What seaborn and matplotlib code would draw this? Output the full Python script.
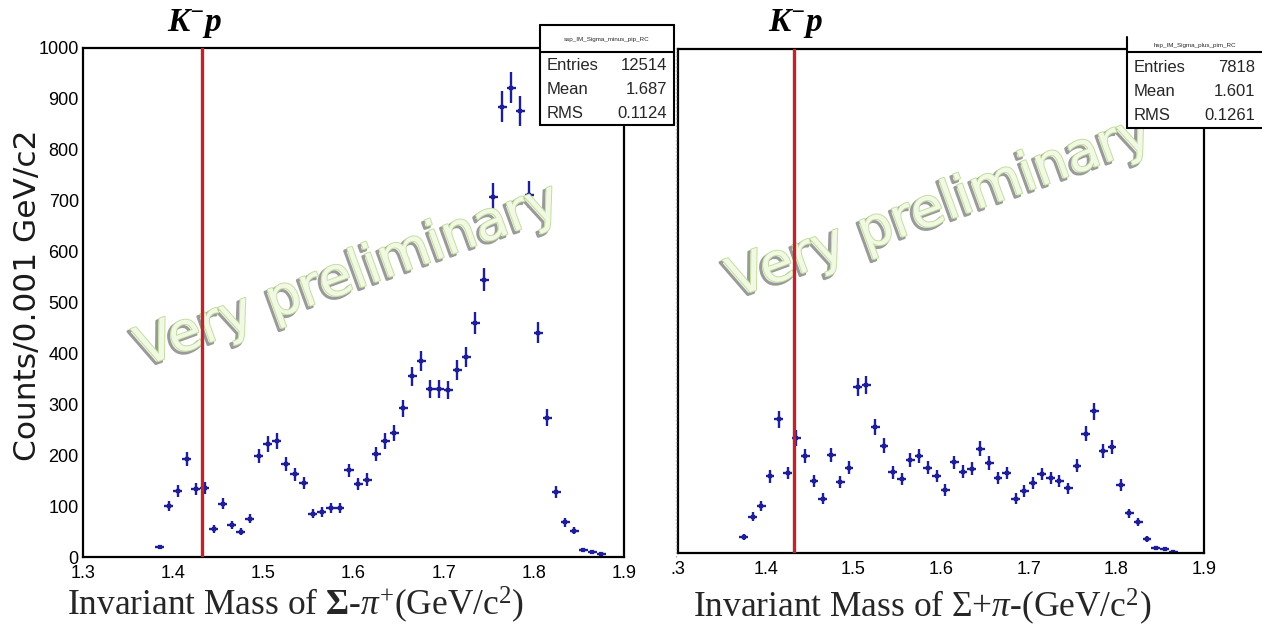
import numpy as np
import pandas as pd
import matplotlib
matplotlib.use("Agg")
import matplotlib.pyplot as plt
import seaborn as sns
from matplotlib import patheffects as pe
from matplotlib.ticker import MultipleLocator
from matplotlib.lines import Line2D
from matplotlib.patches import Rectangle

# ---------------- data ----------------
mass_left = [1.385, 1.395, 1.405, 1.415, 1.425, 1.435, 1.445, 1.455, 1.465, 1.475,
             1.485, 1.495, 1.505, 1.515, 1.525, 1.535, 1.545, 1.555, 1.565, 1.575,
             1.585, 1.595, 1.605, 1.615, 1.625, 1.635, 1.645, 1.655, 1.665, 1.675,
             1.685, 1.695, 1.705, 1.715, 1.725, 1.735, 1.745, 1.755, 1.765, 1.775,
             1.785, 1.795, 1.805, 1.815, 1.825, 1.835, 1.845, 1.855, 1.865, 1.875]
counts_left = [20, 100, 130, 192, 133, 135, 55, 105, 62, 50,
               75, 198, 222, 228, 183, 163, 145, 85, 88, 97,
               97, 170, 143, 152, 202, 228, 243, 292, 355, 385,
               330, 330, 328, 367, 393, 460, 545, 708, 885, 922,
               877, 712, 441, 274, 128, 68, 52, 14, 10, 5]

mass_right = [1.375, 1.385, 1.395, 1.405, 1.415, 1.425, 1.435, 1.445, 1.455, 1.465,
              1.475, 1.485, 1.495, 1.505, 1.515, 1.525, 1.535, 1.545, 1.555, 1.565,
              1.575, 1.585, 1.595, 1.605, 1.615, 1.625, 1.635, 1.645, 1.655, 1.665,
              1.675, 1.685, 1.695, 1.705, 1.715, 1.725, 1.735, 1.745, 1.755, 1.765,
              1.775, 1.785, 1.795, 1.805, 1.815, 1.825, 1.835, 1.845, 1.855, 1.865]
counts_right = [32, 72, 93, 152, 265, 159, 228, 192, 143, 108,
                195, 141, 169, 329, 333, 250, 213, 160, 147, 185,
                192, 169, 153, 125, 180, 161, 167, 207, 179, 149,
                159, 108, 123, 139, 157, 149, 142, 128, 173, 237,
                281, 203, 210, 135, 79, 62, 28, 10, 7, 2]

threshold_kp = 1.432
bin_half_width = 0.005

x_ticks = [1.3, 1.4, 1.5, 1.6, 1.7, 1.8, 1.9]
x_labels_left = ["1.3", "1.4", "1.5", "1.6", "1.7", "1.8", "1.9"]
x_labels_right = [".3", "1.4", "1.5", "1.6", "1.7", "1.8", "1.9"]
y_ticks = [0, 100, 200, 300, 400, 500, 600, 700, 800, 900, 1000]

stats_left = {"title": "ssp_IM_Sigma_minus_pip_RC",
              "rows": [("Entries", "12514"), ("Mean", "1.687"), ("RMS", "0.1124")]}
stats_right = {"title": "hsp_IM_Sigma_plus_pim_RC",
               "rows": [("Entries", "7818"), ("Mean", "1.601"), ("RMS", "0.1261")]}

# ---------------- style ----------------
sns.set_style("white")
plt.rcParams["font.family"] = ["Liberation Sans", "DejaVu Sans"]
plt.rcParams["mathtext.fontset"] = "custom"
plt.rcParams["mathtext.rm"] = "Liberation Serif"
plt.rcParams["mathtext.it"] = "Liberation Serif:italic"
plt.rcParams["mathtext.bf"] = "Liberation Serif:bold"
plt.rcParams["mathtext.sf"] = "Liberation Serif:bold:italic"

W, H = 1262, 627
fig = plt.figure(figsize=(W / 100, H / 100), dpi=100)
fig.patch.set_facecolor("white")


def fx(x):
    return x / W


def fy(y):
    return 1 - y / H


navy = "#1e1e96"
red = "#c0232a"

ax_l = fig.add_axes([fx(83), fy(557), fx(624) - fx(83), fy(48) - fy(557)])
ax_r = fig.add_axes([fx(678), fy(553), fx(1204) - fx(678), fy(49) - fy(553)])

df_l = pd.DataFrame({"mass": mass_left, "counts": counts_left})
df_r = pd.DataFrame({"mass": mass_right, "counts": counts_right})

for ax, df, xl in [(ax_l, df_l, x_labels_left), (ax_r, df_r, x_labels_right)]:
    sns.scatterplot(data=df, x="mass", y="counts", ax=ax, marker="s", s=5,
                    color=navy, edgecolor=None, legend=False, zorder=2)
    ax.errorbar(df["mass"], df["counts"], yerr=np.sqrt(df["counts"]),
                xerr=bin_half_width, fmt="none", ecolor=navy, elinewidth=1.7,
                capsize=0, zorder=2)
    ax.axvline(threshold_kp, color=red, lw=2.4, zorder=4)
    ax.set_xlim(1.3, 1.9)
    ax.set_ylim(0, 1000)
    ax.set_xticks(x_ticks)
    ax.set_xticklabels(xl)
    ax.set_yticks(y_ticks)
    ax.xaxis.set_minor_locator(MultipleLocator(0.02))
    ax.yaxis.set_minor_locator(MultipleLocator(20))
    ax.tick_params(axis="both", which="both", direction="in", top=False,
                   right=False, width=1.3, colors="black", labelsize=13)
    ax.tick_params(axis="y", which="major", length=12, pad=3)
    ax.tick_params(axis="y", which="minor", length=6)
    ax.tick_params(axis="x", which="major", length=9, pad=6)
    ax.tick_params(axis="x", which="minor", length=5)
    ax.set_xlabel("")
    ax.set_ylabel("")
    for sp in ax.spines.values():
        sp.set_linewidth(1.6)
        sp.set_color("black")

ax_r.tick_params(axis="y", labelleft=False)

# watermark
for ax, (cx, cy) in [(ax_l, (348, 276)), (ax_r, (940, 207))]:
    ax.text(fx(cx), fy(cy), "Very preliminary", transform=fig.transFigure,
            rotation=20, rotation_mode="anchor", ha="center", va="center",
            fontsize=39, family="DejaVu Sans", color="#f1f8e4", zorder=3,
            path_effects=[pe.Stroke(linewidth=2.2, foreground="#9a9a9a", offset=(-1.8, -1.8)),
                          pe.Stroke(linewidth=1.4, foreground="#c4de9e"),
                          pe.Normal()])

# K- p labels
for x in [195, 796]:
    fig.text(fx(x), fy(24), r"$\mathsf{K}^{\mathsf{-}}\mathsf{p}$", ha="center",
             va="center", fontsize=24, color="black")

# axis titles
fig.text(fx(296), fy(605), r"Invariant Mass of $\mathbf{\Sigma}$-$\mathit{\pi}^{+}$(GeV/c$^{2}$)",
         family="Liberation Serif", fontsize=25.5, ha="center", va="center")
fig.text(fx(922), fy(607), r"Invariant Mass of $\Sigma$+$\mathit{\pi}$-(GeV/c$^{2}$)",
         family="Liberation Serif", fontsize=25.5, ha="center", va="center")
fig.text(fx(28), fy(295), "Counts/0.001 GeV/c2", family="DejaVu Sans", fontsize=22.5,
         rotation=90, ha="center", va="center", color="#1a1a1a")

# separator between the two pictures
fig.add_artist(Line2D([fx(676), fx(676)], [fy(557), fy(47)], transform=fig.transFigure,
                      color="#b5b5b5", lw=1, ls=":", zorder=1))

# stats boxes
def stats_box(x0, x1, ytop, ysep, ybot, info, rows_y, draw_top=True, draw_right=True):
    fig.add_artist(Rectangle((fx(x0), fy(ybot)), fx(x1) - fx(x0), fy(ytop) - fy(ybot),
                             transform=fig.transFigure, facecolor="white",
                             edgecolor="none", zorder=6))
    segs = [([x0, x0], [ytop, ybot]), ([x0, x1], [ybot, ybot]), ([x0, x1], [ysep, ysep])]
    if draw_top:
        segs.append(([x0, x1], [ytop, ytop]))
    if draw_right:
        segs.append(([x1, x1], [ytop, ybot]))
    for xs, ys in segs:
        fig.add_artist(Line2D([fx(v) for v in xs], [fy(v) for v in ys],
                              transform=fig.transFigure, color="black", lw=1.5, zorder=7))
    fig.text(fx((x0 + x1) / 2), fy((ytop + ysep) / 2 + 1), info["title"], fontsize=4.5,
             ha="center", va="center", zorder=8)
    for (lab, val), yy in zip(info["rows"], rows_y):
        fig.text(fx(x0 + 7), fy(yy), lab, fontsize=12, ha="left", va="center", zorder=8)
        fig.text(fx(x1 - 7), fy(yy), val, fontsize=12, ha="right", va="center", zorder=8)

stats_box(540, 674, 25, 52, 125, stats_left, [65, 89, 114])
stats_box(1127, 1262, 37, 52, 128, stats_right, [68, 91, 115], draw_top=False, draw_right=False)

fig.savefig("out.png", dpi=100, facecolor="white")
